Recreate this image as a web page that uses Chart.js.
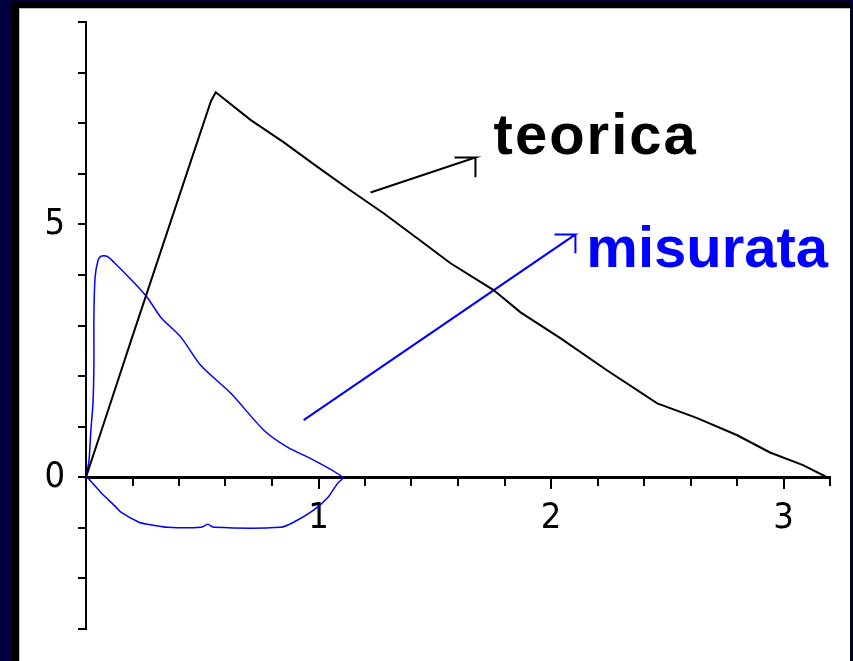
<!DOCTYPE html>
<html>
<head>
<meta charset="utf-8">
<script src="https://cdn.jsdelivr.net/npm/chart.js@4.4.1/dist/chart.umd.min.js"></script>
<style>
  html, body { margin: 0; padding: 0; }
  body { width: 853px; height: 661px; background: #00003f; position: relative; overflow: hidden; }
  .shadow { position: absolute; left: 12px; top: 1px; width: 839px; height: 660px; background: #000; }
  .sheet { position: absolute; left: 19px; top: 8px; width: 831px; height: 653px; background: #fff;
           border-left: 1px solid #bdbdbd; border-top: 1px solid #bdbdbd; box-sizing: border-box; }
  #plot { position: absolute; left: 0; top: 0; }
</style>
</head>
<body>
<div class="shadow"></div>
<div class="sheet"></div>
<canvas id="plot" width="853" height="661"></canvas>

<script>
// curva teorica
const teoricaX = [0, 0.064, 0.193, 0.322, 0.451, 0.537, 0.558,
  0.709, 0.851, 0.997, 1.138, 1.280, 1.426, 1.568, 1.753, 1.869, 2.040, 2.242, 2.457, 2.629,
  2.801, 2.942, 3.084, 3.187];
const teoricaY = [0, 0.89, 2.69, 4.47, 6.25, 7.43, 7.61,
  7.06, 6.62, 6.13, 5.67, 5.22, 4.72, 4.23, 3.70, 3.26, 2.75, 2.11, 1.46, 1.17,
  0.83, 0.49, 0.24, 0];

// curva misurata (ciclo chiuso)
const misurataX = [0, 0.013, 0.021, 0.030, 0.034, 0.034, 0.039, 0.052, 0.064, 0.090, 0.120,
  0.206, 0.266, 0.322, 0.408, 0.494, 0.623, 0.765, 0.868, 0.979, 1.104,
  1.082, 1.040, 0.979, 0.893, 0.838, 0.550, 0.524, 0.494, 0.352, 0.266, 0.228,
  0.150, 0.129, 0.064, 0.009, 0];
const misurataY = [0, 0.34, 0.93, 1.46, 2.25, 3.16, 3.95, 4.29, 4.37, 4.37, 4.25,
  3.85, 3.54, 3.16, 2.77, 2.21, 1.66, 0.93, 0.59, 0.34, 0,
  -0.12, -0.40, -0.65, -0.89, -0.99, -0.99, -0.93, -0.99, -0.99, -0.93, -0.89,
  -0.69, -0.59, -0.30, -0.02, 0];

// frecce: partenza, punta, aletta sinistra, punta, aletta bassa
const arrowTeoricaX = [1.224, 1.675, 1.585, 1.675, 1.675];
const arrowTeoricaY = [5.63, 6.32, 6.32, 6.32, 5.93];
const arrowMisurataX = [0.936, 2.105, 2.015, 2.105, 2.105];
const arrowMisurataY = [1.13, 4.80, 4.80, 4.80, 4.43];

// etichette
const noteText = ["teorica", "misurata"];
const noteX = [1.753, 2.152];
const noteY = [6.40, 4.15];
const noteColor = ["#000000", "#0000ff"];
const noteSpacing = ["2px", "0px"];

const xTickLabels = [1, 2, 3];
const yTickLabels = [0, 5];

const tickFamily = "'Liberation Sans Narrow', 'DejaVu Sans Condensed', 'DejaVu Sans', sans-serif";

function toPoints(xs, ys) {
  return xs.map((x, i) => ({ x: x, y: ys[i] }));
}

const notesPlugin = {
  id: "notes",
  afterDatasetsDraw(chart) {
    const ctx = chart.ctx;
    const sx = chart.scales.x;
    const sy = chart.scales.y;
    ctx.save();
    ctx.font = "bold 58px 'Liberation Sans', Arial, sans-serif";
    ctx.textBaseline = "alphabetic";
    ctx.textAlign = "left";
    noteText.forEach((t, i) => {
      if ("letterSpacing" in ctx) ctx.letterSpacing = noteSpacing[i];
      ctx.fillStyle = noteColor[i];
      ctx.fillText(t, sx.getPixelForValue(noteX[i]), sy.getPixelForValue(noteY[i]));
    });
    ctx.restore();
  }
};

new Chart(document.getElementById("plot"), {
  type: "scatter",
  data: {
    datasets: [
      {
        data: toPoints(teoricaX, teoricaY),
        showLine: true, borderColor: "#000", borderWidth: 2, pointRadius: 0, tension: 0
      },
      {
        data: toPoints(misurataX, misurataY),
        showLine: true, borderColor: "#0000ff", borderWidth: 1.5, pointRadius: 0, tension: 0.25
      },
      {
        data: toPoints(arrowTeoricaX, arrowTeoricaY),
        showLine: true, borderColor: "#000", borderWidth: 2, pointRadius: 0, tension: 0
      },
      {
        data: toPoints(arrowMisurataX, arrowMisurataY),
        showLine: true, borderColor: "#0000ff", borderWidth: 2, pointRadius: 0, tension: 0
      }
    ]
  },
  options: {
    responsive: false,
    animation: false,
    devicePixelRatio: 1,
    layout: { padding: { left: 0, right: 23, top: 22, bottom: 32 } },
    plugins: { legend: { display: false }, tooltip: { enabled: false } },
    scales: {
      x: {
        type: "linear", min: 0, max: 3.2, position: { y: 0 },
        border: { color: "#000", width: 3 },
        grid: { drawOnChartArea: false, color: "#000", lineWidth: 2, tickLength: 7 },
        ticks: { stepSize: 0.2, autoSkip: false, display: false }
      },
      xMajor: {
        type: "linear", axis: "x", min: 0, max: 3.2, position: { y: 0 },
        border: { display: false },
        grid: { drawOnChartArea: false, color: "#000", lineWidth: 2, tickLength: 12 },
        ticks: {
          stepSize: 1, includeBounds: false, autoSkip: false, maxRotation: 0,
          padding: 8, color: "#000", font: { family: tickFamily, size: 36 },
          callback: (v) => xTickLabels.includes(v) ? String(v) : ""
        }
      },
      y: {
        type: "linear", min: -3, max: 9, position: "left",
        afterFit: (scale) => { scale.width = 86; },
        border: { color: "#000", width: 2 },
        grid: { drawOnChartArea: false, color: "#000", lineWidth: 2, tickLength: 8 },
        ticks: {
          stepSize: 1, autoSkip: false, padding: 13, color: "#000",
          font: { family: tickFamily, size: 36, lineHeight: 0.4 },
          callback: (v) => yTickLabels.includes(v) ? String(v) : ""
        }
      }
    }
  },
  plugins: [notesPlugin]
});
</script>
</body>
</html>
